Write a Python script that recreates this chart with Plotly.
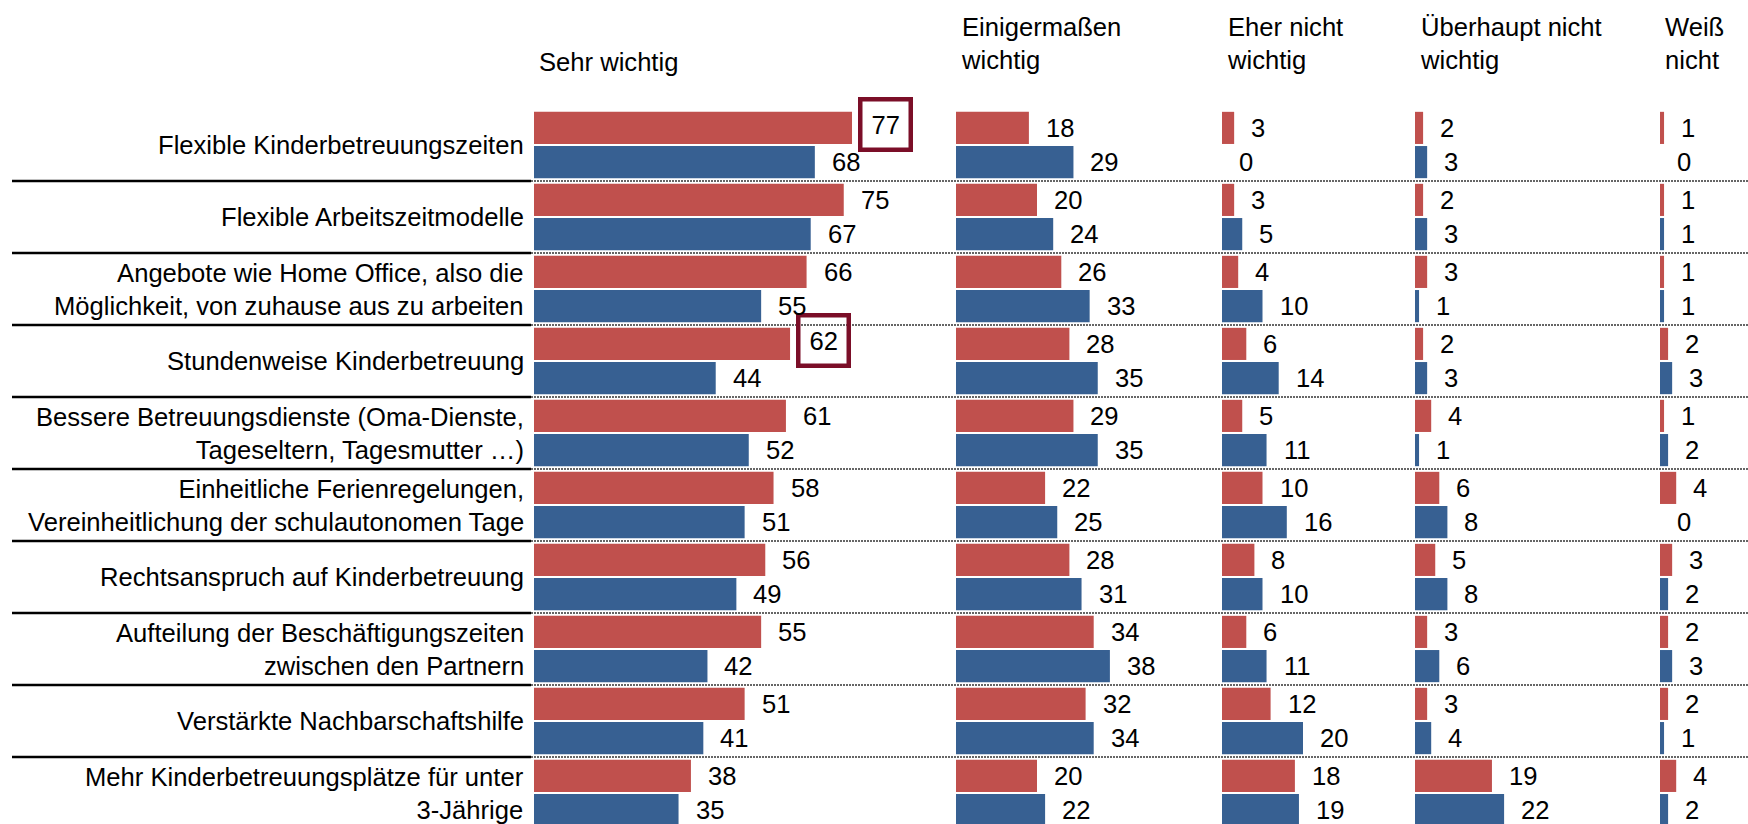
import plotly.graph_objects as go

categories = [
    "Flexible Kinderbetreuungszeiten",
    "Flexible Arbeitszeitmodelle",
    "Angebote wie Home Office, also die<br>Möglichkeit, von zuhause aus zu arbeiten",
    "Stundenweise Kinderbetreuung",
    "Bessere Betreuungsdienste (Oma-Dienste,<br>Tageseltern, Tagesmutter …)",
    "Einheitliche Ferienregelungen,<br>Vereinheitlichung der schulautonomen Tage",
    "Rechtsanspruch auf Kinderbetreuung",
    "Aufteilung der Beschäftigungszeiten<br>zwischen den Partnern",
    "Verstärkte Nachbarschaftshilfe",
    "Mehr Kinderbetreuungsplätze für unter<br>3-Jährige",
]

column_titles = ["Sehr wichtig", "Einigermaßen<br>wichtig", "Eher nicht<br>wichtig",
                 "Überhaupt nicht<br>wichtig", "Weiß<br>nicht"]

sehr_red = [77, 75, 66, 62, 61, 58, 56, 55, 51, 38]
sehr_blue = [68, 67, 55, 44, 52, 51, 49, 42, 41, 35]
einiger_red = [18, 20, 26, 28, 29, 22, 28, 34, 32, 20]
einiger_blue = [29, 24, 33, 35, 35, 25, 31, 38, 34, 22]
eher_red = [3, 3, 4, 6, 5, 10, 8, 6, 12, 18]
eher_blue = [0, 5, 10, 14, 11, 16, 10, 11, 20, 19]
ueber_red = [2, 2, 3, 2, 4, 6, 5, 3, 3, 19]
ueber_blue = [3, 3, 1, 3, 1, 8, 8, 6, 4, 22]
weiss_red = [1, 1, 1, 2, 1, 4, 3, 2, 2, 4]
weiss_blue = [0, 1, 1, 3, 2, 0, 2, 3, 1, 2]

# highlighted labels: (column, series, category index)
highlights = [(0, "red", 0), (0, "red", 3)]

series = [
    (sehr_red, sehr_blue),
    (einiger_red, einiger_blue),
    (eher_red, eher_blue),
    (ueber_red, ueber_blue),
    (weiss_red, weiss_blue),
]

W, H = 1748, 824
RED = "#C0504D"
BLUE = "#376092"
FONT = "Liberation Sans, Arial, sans-serif"
FS = 25.6

# column layout in pixels: start, end, px per unit
col_px = [(534, 956, 4.13), (956, 1222, 4.05), (1222, 1415, 4.05),
          (1415, 1660, 4.05), (1660, 1748, 4.05)]

# vertical layout: first category centre at 145px, pitch 72px
y0_px, pitch = 145.0, 72.0
y_top = -y0_px / pitch
y_bot = (H - y0_px) / pitch
ypos = list(range(len(categories)))

fig = go.Figure()
annotations = []
shapes = []

for c, ((red, blue), (a, b, ppu)) in enumerate(zip(series, col_px)):
    xa = "x" if c == 0 else f"x{c + 1}"
    for vals, col, name in ((red, RED, "red"), (blue, BLUE, "blue")):
        fig.add_trace(go.Bar(
            x=vals, y=ypos, orientation="h", marker=dict(color=col, line=dict(width=0)),
            xaxis=xa, yaxis="y", showlegend=False, hoverinfo="x+y",
            offsetgroup=name,
        ))
        off = -0.2375 if name == "red" else 0.2375
        for i, v in enumerate(vals):
            hl = (c, name, i) in highlights
            ann = dict(
                x=v, y=i + off, xref=xa, yref="y", text=str(v), showarrow=False,
                xanchor="left", yanchor="middle",
                font=dict(family=FONT, size=FS, color="black"),
            )
            if hl:
                ann.update(bordercolor="#7B0E28", borderwidth=4.5, borderpad=9, xshift=6, yshift=3)
            else:
                ann.update(xshift=15)
            annotations.append(ann)
    # column title
    annotations.append(dict(
        x=0, y=(1 - 62 / H) if c == 0 else (1 - 44 / H), xref=f"{xa} domain", yref="paper",
        text=column_titles[c], showarrow=False, xanchor="left", yanchor="middle",
        align="left", xshift=3, font=dict(family=FONT, size=FS, color="black"),
    ))
    layout_axis = dict(domain=[a / W, b / W], range=[0, (b - a) / ppu], visible=False,
                       fixedrange=True)
    if c > 0:
        layout_axis["anchor"] = "y"
    fig.update_layout(**{("xaxis" if c == 0 else f"xaxis{c + 1}"): layout_axis})

# category labels
for i, lab in enumerate(categories):
    annotations.append(dict(
        x=526 / W, y=i, xref="paper", yref="y", text=lab, showarrow=False,
        xanchor="right", yanchor="middle", align="right",
        font=dict(family=FONT, size=FS, color="black"),
    ))

# separators between categories
for i in range(len(categories) - 1):
    shapes.append(dict(type="line", xref="paper", yref="y", x0=12 / W, x1=531 / W,
                       y0=i + 0.5, y1=i + 0.5, line=dict(color="black", width=2.5)))
    shapes.append(dict(type="line", xref="paper", yref="y", x0=531 / W, x1=1.0,
                       y0=i + 0.5, y1=i + 0.5, line=dict(color="#666666", width=2, dash="2px,1px")))

fig.update_layout(
    width=W, height=H, autosize=False,
    margin=dict(l=0, r=0, t=0, b=0),
    paper_bgcolor="white", plot_bgcolor="white",
    barmode="group", bargap=0.05, bargroupgap=0.06,
    yaxis=dict(range=[y_bot, y_top], visible=False, fixedrange=True, domain=[0, 1]),
    annotations=annotations, shapes=shapes,
    font=dict(family=FONT, size=FS, color="black"),
)

fig.write_html("out.html", config={"displayModeBar": False},
               post_script="document.body.style.margin='0';document.body.style.overflow='hidden';")
